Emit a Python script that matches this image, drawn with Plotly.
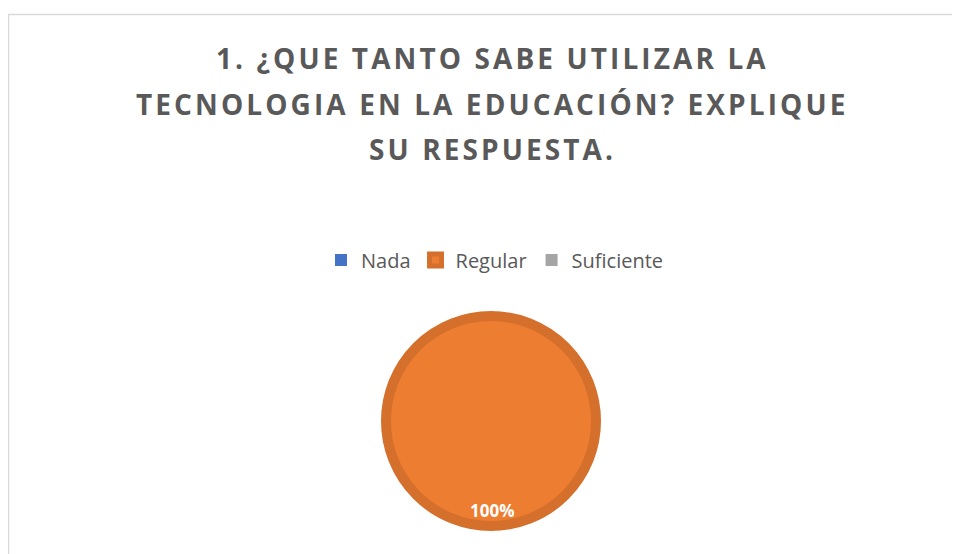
import plotly.graph_objects as go

# ---- data ----
categories = ["Nada", "Regular", "Suficiente"]
values = [0, 1, 0]
colors = ["#4472C4", "#ED7D31", "#A5A5A5"]
title_lines = ["1. ¿QUE TANTO SABE UTILIZAR LA",
               "TECNOLOGIA EN LA EDUCACIÓN? EXPLIQUE",
               "SU RESPUESTA."]

# page body has an 8px margin, so the figure starts at page (8, 8)
OFF = 8
W, H = 960 - OFF, 554 - OFF
FONT = "Open Sans"
GREY = "#595959"
RING = "#D5702C"


def px_x(x):
    return (x - OFF) / W


def px_y(y):
    return 1 - (y - OFF) / H


line_colors = [RING if v > 0 else "rgba(0,0,0,0)" for v in values]
line_widths = [10 if v > 0 else 0 for v in values]

fig = go.Figure()
fig.add_trace(go.Pie(
    labels=categories,
    values=values,
    marker=dict(colors=colors, line=dict(color=line_colors, width=line_widths)),
    sort=False,
    direction="clockwise",
    textinfo="none",
    hoverinfo="label+percent",
    domain=dict(x=[px_x(386), px_x(596)], y=[px_y(526), px_y(316)]),
    showlegend=True,
))

total = sum(values)
idx = max(range(len(values)), key=lambda i: values[i])
pct_text = f"{values[idx] / total:.0%}"

annotations = []
for line, yc in zip(title_lines, [58, 104, 149]):
    annotations.append(dict(
        text=f"<span style='letter-spacing:3.1px'><b>{line}</b></span>",
        x=px_x(492), y=px_y(yc), xref="paper", yref="paper",
        xanchor="center", yanchor="middle", showarrow=False,
        font=dict(family=FONT, size=28, color=GREY)))
annotations.append(dict(
    text=f"<b>{pct_text}</b>", x=px_x(492), y=px_y(510), xref="paper", yref="paper",
    xanchor="center", yanchor="middle", showarrow=False,
    font=dict(family=FONT, size=17, color="white")))

fig.update_layout(
    width=W, height=H,
    margin=dict(l=0, r=0, t=0, b=0),
    paper_bgcolor="white",
    plot_bgcolor="white",
    font=dict(family=FONT, color=GREY),
    legend=dict(orientation="h", x=px_x(495), xanchor="center", y=px_y(260), yanchor="middle",
                font=dict(family=FONT, size=20, color=GREY), itemclick=False,
                traceorder="normal"),
    annotations=annotations,
    shapes=[dict(type="rect", xref="paper", yref="paper",
                 x0=px_x(8.5), x1=px_x(1000), y0=px_y(600), y1=px_y(14.5),
                 line=dict(color="#D9D9D9", width=1.5), fillcolor="rgba(0,0,0,0)", layer="below")],
)

fig.write_html("out.html")
